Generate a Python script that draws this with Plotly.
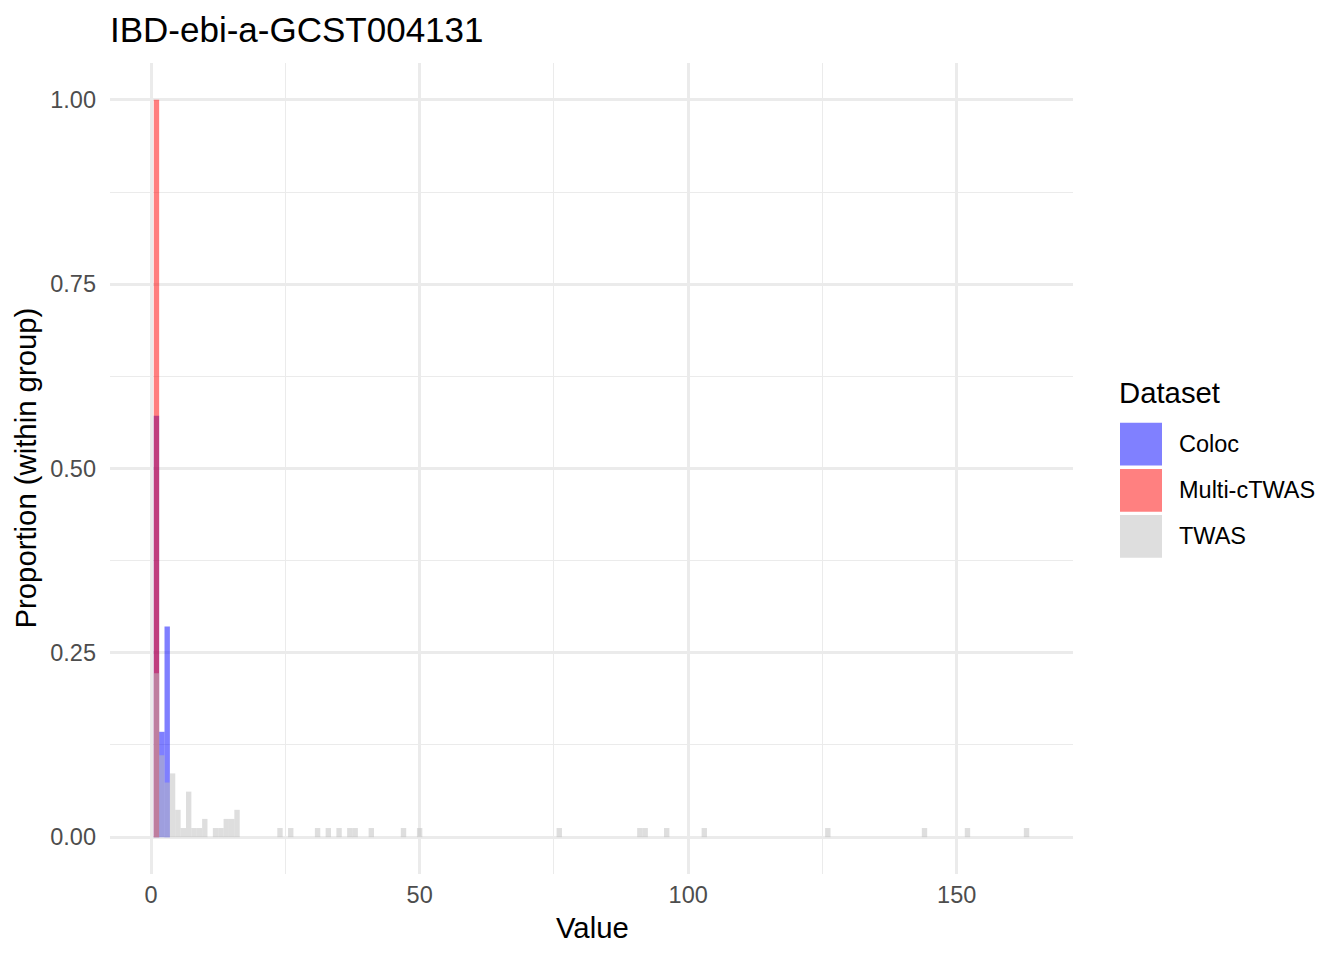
import plotly.graph_objects as go

# ---------------- data ----------------
groups = ["Coloc", "Multi-cTWAS", "TWAS"]

coloc_bins = [1, 2, 3]
coloc_counts = [4, 1, 2]

multi_bins = [1]
multi_counts = [1]

twas_bins = [1, 2, 3, 4, 5, 6, 7, 8, 9, 10, 12, 13, 14, 15, 16,
             24, 26, 31, 33, 35, 37, 38, 41, 47, 50,
             76, 91, 92, 96, 103, 126, 144, 152, 163]
twas_counts = [18, 9, 6, 7, 3, 1, 5, 1, 1, 2, 1, 1, 2, 2, 3,
               1, 1, 1, 1, 1, 1, 1, 1, 1, 1,
               1, 1, 1, 1, 1, 1, 1, 1, 1]

x_ticks = [0, 50, 100, 150]
y_ticks = [0, 0.25, 0.5, 0.75, 1.0]

colors = {"Coloc": "#0000FF", "Multi-cTWAS": "#FF0000", "TWAS": "#BEBEBE"}
legend_colors = {"Coloc": "#8080FF", "Multi-cTWAS": "#FF8080", "TWAS": "#DEDEDE"}

series = {
    "Coloc": (coloc_bins, coloc_counts),
    "Multi-cTWAS": (multi_bins, multi_counts),
    "TWAS": (twas_bins, twas_counts),
}

# ---------------- layout geometry (pixels, page coords) ----------------
OFF = 8  # default page body margin
W, H = 1344 - OFF, 960 - OFF
PL, PR, PT, PB = 110 - OFF, 1073 - OFF, 63 - OFF, 874 - OFF
FONT = "Liberation Sans, Arial, sans-serif"


def px_x(p):
    return (p - OFF - PL) / (PR - PL)


def px_y(p):
    return (PB - (p - OFF)) / (PB - PT)


fig = go.Figure()
for g in groups:
    bins, counts = series[g]
    total = sum(counts)
    props = [c / total for c in counts]
    fig.add_trace(go.Bar(
        x=bins, y=props, width=1, name=g,
        marker=dict(color=colors[g], opacity=0.5, line=dict(width=0)),
        showlegend=False,
    ))

grid = "#EBEBEB"
fig.update_layout(
    width=W, height=H,
    barmode="overlay",
    plot_bgcolor="white", paper_bgcolor="white",
    margin=dict(l=PL, r=W - PR, t=PT, b=H - PB, autoexpand=False),
    font=dict(family=FONT, color="black"),
    title=dict(text="IBD-ebi-a-GCST004131", x=(110 - OFF) / W, xanchor="left",
               y=1 - (30 - OFF) / H, yanchor="middle", yref="container",
               font=dict(size=35, family=FONT, color="black")),
    xaxis=dict(range=[-7.65, 171.65], tickvals=x_ticks, ticktext=[str(v) for v in x_ticks],
               showgrid=True, gridcolor=grid, gridwidth=2.6, zeroline=False, showline=False,
               ticks="", ticklabelstandoff=4,
               tickfont=dict(size=23.5, color="#4D4D4D", family=FONT),
               minor=dict(dtick=25, tick0=0, showgrid=True, gridcolor=grid, gridwidth=1.3),
               fixedrange=True),
    yaxis=dict(range=[-0.05, 1.05], tickvals=y_ticks, ticktext=[f"{v:.2f}" for v in y_ticks],
               showgrid=True, gridcolor=grid, gridwidth=2.6, zeroline=False, showline=False,
               ticks="", ticklabelstandoff=13,
               tickfont=dict(size=23.5, color="#4D4D4D", family=FONT),
               minor=dict(dtick=0.125, tick0=0, showgrid=True, gridcolor=grid, gridwidth=1.3),
               fixedrange=True),
)

annotations = [
    dict(text="Value", x=px_x(592), y=px_y(927), xref="paper", yref="paper",
         xanchor="center", yanchor="middle", showarrow=False,
         font=dict(size=29.3, family=FONT, color="black")),
    dict(text="Proportion (within group)", x=px_x(25), y=px_y(468.5), xref="paper", yref="paper",
         xanchor="center", yanchor="middle", showarrow=False, textangle=-90,
         font=dict(size=29.3, family=FONT, color="black")),
    dict(text="Dataset", x=px_x(1117), y=px_y(392.5), xref="paper", yref="paper",
         xanchor="left", yanchor="middle", showarrow=False,
         font=dict(size=29.3, family=FONT, color="black")),
]

shapes = []
key_tops = [422.7, 469.0, 515.0]
key_h = 42.7
for g, top in zip(groups, key_tops):
    shapes.append(dict(type="rect", xref="paper", yref="paper",
                       x0=px_x(1120), x1=px_x(1162), y0=px_y(top + key_h), y1=px_y(top),
                       fillcolor=legend_colors[g], line=dict(width=0), layer="above"))
    annotations.append(dict(text=g, x=px_x(1177), y=px_y(top + key_h / 2), xref="paper", yref="paper",
                            xanchor="left", yanchor="middle", showarrow=False,
                            font=dict(size=23.5, family=FONT, color="black")))

fig.update_layout(annotations=annotations, shapes=shapes)
fig.write_html("out.html")
